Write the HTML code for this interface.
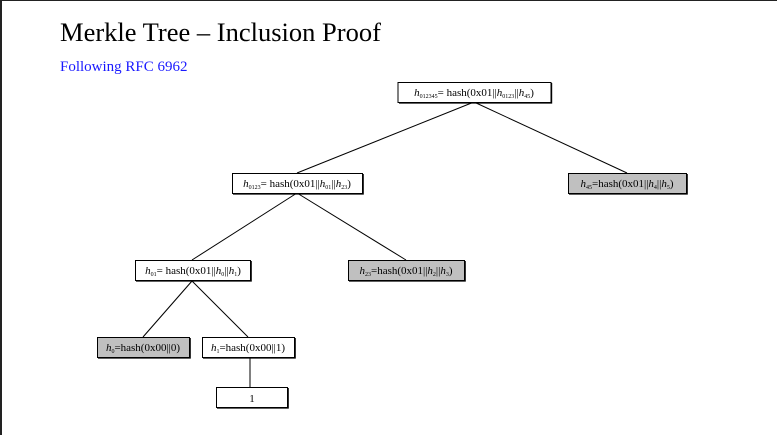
<!DOCTYPE html>
<html><head><meta charset="utf-8">
<style>
html,body{margin:0;padding:0;background:#fff;}
body{width:777px;height:435px;overflow:hidden;position:relative;font-family:"Liberation Serif",serif;}
.bt{position:absolute;left:0;top:0;width:777px;height:1px;background:#222;}
.bl{position:absolute;left:0;top:0;width:2px;height:435px;background:#222;}
h1{position:absolute;left:60px;top:17px;margin:0;font-weight:normal;font-size:26.5px;color:#000;white-space:nowrap;}
.sub{position:absolute;left:60px;top:59px;font-size:15px;color:#1a1aff;white-space:nowrap;}
svg{position:absolute;left:0;top:0;}
text{font-family:"Liberation Serif",serif;font-size:11px;fill:#000;}
</style></head><body>
<div class="bt"></div><div class="bl"></div>
<h1>Merkle Tree – Inclusion Proof</h1>
<div class="sub">Following RFC 6962</div>
<svg width="777" height="435" viewBox="0 0 777 435">
<g stroke="#000" stroke-width="1" fill="none">
<line x1="474" y1="102" x2="297" y2="173"/>
<line x1="474" y1="102" x2="627" y2="173"/>
<line x1="297" y1="193" x2="192" y2="260"/>
<line x1="297" y1="193" x2="406" y2="260"/>
<line x1="192" y1="281" x2="143" y2="337"/>
<line x1="192" y1="281" x2="248" y2="337"/>
<line x1="250" y1="357" x2="250" y2="387"/>
</g>
<g stroke="#000" stroke-width="1">
<rect x="398" y="82.5" width="153" height="20" fill="#fff"/>
<rect x="232.5" y="173.5" width="130" height="20" fill="#fff"/>
<rect x="568.5" y="173.5" width="118" height="20" fill="#c0c0c0"/>
<rect x="135.5" y="260.5" width="115" height="20" fill="#fff"/>
<rect x="348.5" y="260.5" width="116" height="20" fill="#c0c0c0"/>
<rect x="97.5" y="337.5" width="92" height="20" fill="#c0c0c0"/>
<rect x="202.5" y="337.5" width="92" height="20" fill="#fff"/>
<rect x="216.5" y="387.5" width="71" height="20" fill="#fff"/>
</g>
<g stroke="#000" stroke-width="1.2" fill="none">
<polyline points="551.6,83 551.6,103 399,103"/>
<polyline points="363.2,174 363.2,194 233,194"/>
<polyline points="687.2,174 687.2,194 569,194"/>
<polyline points="251.2,261 251.2,281 136,281"/>
<polyline points="465.2,261 465.2,281 349,281"/>
<polyline points="190.2,338 190.2,358 98,358"/>
<polyline points="295.2,338 295.2,358 203,358"/>
<polyline points="288.2,388 288.2,408 217,408"/>
</g>
<text x="474" y="96" text-anchor="middle"><tspan font-style="italic">h</tspan><tspan font-size="6" dy="2">012345</tspan><tspan dy="-2">= hash(0x01||</tspan><tspan font-style="italic">h</tspan><tspan font-size="6" dy="2">0123</tspan><tspan dy="-2">||</tspan><tspan font-style="italic">h</tspan><tspan font-size="6" dy="2">45</tspan><tspan dy="-2">)</tspan></text>
<text x="297" y="187" text-anchor="middle"><tspan font-style="italic">h</tspan><tspan font-size="6" dy="2">0123</tspan><tspan dy="-2">= hash(0x01||</tspan><tspan font-style="italic">h</tspan><tspan font-size="6" dy="2">01</tspan><tspan dy="-2">||</tspan><tspan font-style="italic">h</tspan><tspan font-size="6" dy="2">23</tspan><tspan dy="-2">)</tspan></text>
<text x="627" y="187" text-anchor="middle"><tspan font-style="italic">h</tspan><tspan font-size="6" dy="2">45</tspan><tspan dy="-2">=hash(0x01||</tspan><tspan font-style="italic">h</tspan><tspan font-size="6" dy="2">4</tspan><tspan dy="-2">||</tspan><tspan font-style="italic">h</tspan><tspan font-size="6" dy="2">5</tspan><tspan dy="-2">)</tspan></text>
<text x="193" y="274" text-anchor="middle"><tspan font-style="italic">h</tspan><tspan font-size="6" dy="2">01</tspan><tspan dy="-2">= hash(0x01||</tspan><tspan font-style="italic">h</tspan><tspan font-size="6" dy="2">0</tspan><tspan dy="-2">||</tspan><tspan font-style="italic">h</tspan><tspan font-size="6" dy="2">1</tspan><tspan dy="-2">)</tspan></text>
<text x="406" y="274" text-anchor="middle"><tspan font-style="italic">h</tspan><tspan font-size="6" dy="2">23</tspan><tspan dy="-2">=hash(0x01||</tspan><tspan font-style="italic">h</tspan><tspan font-size="6" dy="2">2</tspan><tspan dy="-2">||</tspan><tspan font-style="italic">h</tspan><tspan font-size="6" dy="2">3</tspan><tspan dy="-2">)</tspan></text>
<text x="143" y="351" text-anchor="middle"><tspan font-style="italic">h</tspan><tspan font-size="6" dy="2">0</tspan><tspan dy="-2">=hash(0x00||0)</tspan></text>
<text x="248" y="351" text-anchor="middle"><tspan font-style="italic">h</tspan><tspan font-size="6" dy="2">1</tspan><tspan dy="-2">=hash(0x00||1)</tspan></text>
<text x="252" y="402" text-anchor="middle" font-size="13">1</text>
</svg>
</body></html>
